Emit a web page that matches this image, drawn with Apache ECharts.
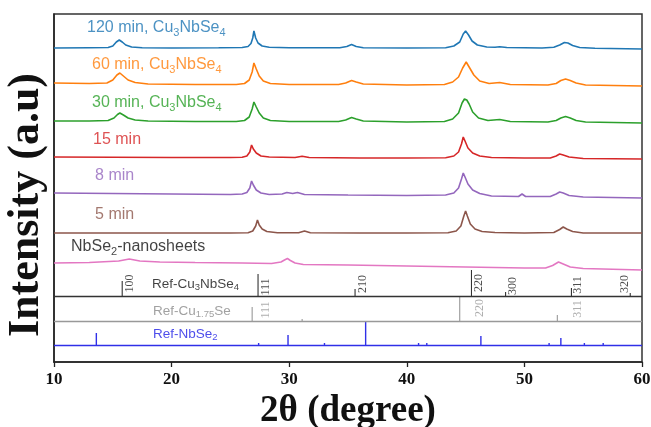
<!DOCTYPE html>
<html><head><meta charset="utf-8">
<script src="https://cdn.jsdelivr.net/npm/echarts@6/dist/echarts.min.js"></script>
<style>html,body{margin:0;padding:0;background:#fff}#c{width:651px;height:427px}</style>
</head><body><div id="c"></div>
<script>
// ---------------- data ----------------
const xTicks = [10, 20, 30, 40, 50, 60];

const trace120 = [[10,314],[13,314.3],[14.6,314.5],[15.0,316],[15.3,320],[15.55,322],[15.8,320],[16.1,317],[16.6,315],[17.5,314.3],[20,314],[24,314.2],[26.0,314.5],[26.5,315.5],[26.75,318.5],[26.9,324],[27.0,331],[27.15,324],[27.35,319],[27.7,316],[28.3,314.8],[30,314.2],[34.3,314.2],[34.9,315.5],[35.3,317.5],[35.7,315.5],[36.3,314.3],[40,314],[43.3,314.3],[44.0,316],[44.5,320],[44.8,328],[45.0,331],[45.25,327],[45.55,321],[46.0,317],[46.8,315],[47.5,314.8],[47.9,315.3],[48.5,314.5],[51.5,314],[52.5,314.8],[53.0,317],[53.4,319.5],[53.7,319],[54.1,316.5],[54.7,314.5],[56,313.8],[60,313]];
const trace60 = [[10,279],[13,278.5],[14.5,279],[15.0,282],[15.35,287],[15.6,289],[15.9,286],[16.3,282],[16.9,279.5],[18,278],[22,277.5],[25.5,277.5],[26.2,278.5],[26.6,282],[26.85,290],[27.0,299],[27.2,293],[27.45,286],[27.8,281],[28.4,278.5],[30,277.5],[34.2,277.5],[34.8,279],[35.3,281.5],[35.7,280],[36.3,278],[40,277],[43.2,277.5],[43.9,280],[44.4,285],[44.75,294],[45.05,300],[45.35,294],[45.7,287],[46.2,281],[47.0,278.5],[47.9,279.5],[48.8,277.5],[52,277],[52.7,278.5],[53.1,281.5],[53.5,283],[53.9,281.5],[54.4,279],[55.2,277],[60,276]];
const trace30 = [[10,241],[13,241],[14.6,241.5],[15.1,244],[15.4,247.5],[15.6,249],[15.9,247],[16.3,244],[16.9,242],[18,241],[22,240.5],[25.5,240.5],[26.2,241.5],[26.6,245],[26.85,253],[27.0,260],[27.2,255],[27.45,249],[27.8,244],[28.4,241.5],[30,240.5],[34.2,240.5],[34.8,242],[35.3,244.5],[35.7,243],[36.3,241],[40,240],[43.2,240.5],[43.9,243],[44.4,249],[44.7,259],[44.9,263],[45.1,262],[45.3,258],[45.6,250],[46.1,244],[46.9,241.5],[47.9,242.5],[48.8,240.5],[52,240],[52.7,241.5],[53.1,244],[53.5,245.5],[53.9,244],[54.4,241.5],[55.2,240],[60,239]];
const trace15 = [[10,205],[15,204.8],[20,204.5],[25,204.5],[26.0,204.8],[26.4,206],[26.65,210],[26.8,217],[26.95,213],[27.2,209],[27.6,206],[28.3,205],[30.5,204.5],[31.1,205.8],[31.7,204.5],[36,204],[40,204],[43.3,204.3],[44.0,206],[44.4,210],[44.65,218],[44.8,225],[44.95,221],[45.2,214],[45.6,209],[46.2,206],[47.2,204.5],[50,204],[52.2,204],[52.7,206],[53.0,208],[53.3,207],[53.8,205],[55,203.5],[60,203]];
const trace8 = [[10,169],[15,168.5],[20,168],[25,167.5],[26.0,168],[26.4,169.5],[26.65,174],[26.8,181],[26.95,177],[27.2,172],[27.6,169],[28.3,167.5],[29.4,168],[29.8,169.5],[30.3,168.5],[30.7,169.5],[31.3,167.5],[35,167],[40,166.5],[43.3,167],[44.0,169],[44.4,174],[44.65,183],[44.8,189],[44.95,185],[45.2,178],[45.6,172],[46.2,168.5],[47.2,166],[49.5,165.5],[49.8,168],[50.1,165.5],[52.2,165.5],[52.7,168],[53.0,170],[53.3,169],[53.8,166.5],[55,165],[60,164]];
const trace5 = [[10,129],[15,129],[20,129],[25,129],[26.5,129.3],[26.9,131],[27.15,136],[27.3,142],[27.45,137],[27.7,133],[28.1,130.5],[29,129.3],[30.8,129.3],[31.3,131],[31.8,129.3],[36,129],[40,129],[43.5,129.2],[44.2,131],[44.6,136],[44.85,146],[45.0,151],[45.15,146],[45.4,138],[45.8,133],[46.4,130.5],[47.5,129.5],[50,129],[52.5,129.5],[53.0,132.5],[53.3,135],[53.6,133],[54.1,130.5],[55,129],[60,129]];
const traceNano = [[10,99],[13,99.5],[15.5,101],[16.4,103],[17.3,101],[19,100],[22,99.5],[26,99],[28.5,98.5],[29.3,100],[29.6,102],[29.85,103.5],[30.1,101.5],[30.5,99],[31.2,97.5],[35,97],[40,96],[45,95],[50,94],[51.8,94],[52.4,96.5],[52.9,100],[53.3,98],[53.9,95],[55,93.5],[60,92]];

const sampleLabels = [
  '{m|120 min, Cu}{s|3}{m|NbSe}{s|4}',
  '{m|60 min, Cu}{s|3}{m|NbSe}{s|4}',
  '{m|30 min, Cu}{s|3}{m|NbSe}{s|4}',
  '{m|15 min}',
  '{m|8 min}',
  '{m|5 min}',
  '{m|NbSe}{s|2}{m|-nanosheets}'
];

// reference patterns: 2θ positions and stick heights
const refCu3NbSe4Pos = [15.8, 27.35, 35.6, 45.5, 48.4, 54.0, 59.0];
const refCu3NbSe4Hgt = [15, 22, 7, 26, 4, 8, 3];
const refCu3NbSe4Hkl = ['100', '111', '210', '220', '300', '311', '320'];
const refCu175SePos = [26.85, 31.1, 44.5, 52.8];
const refCu175SeHgt = [14, 2, 25, 6];
const refCu175SeHkl = ['111', '', '220', '311'];
const refNbSe2Pos = [13.6, 27.4, 29.9, 33.0, 36.5, 41.0, 41.7, 46.3, 52.1, 53.1, 55.1, 56.7];
const refNbSe2Hgt = [12, 2, 10, 2, 24, 2, 2, 9, 2, 7, 2, 2];
const refLabels = [
  '{m|Ref-Cu}{s|3}{m|NbSe}{s|4}',
  '{m|Ref-Cu}{s|1.75}{m|Se}',
  '{m|Ref-NbSe}{s|2}'
];

// ---------------- styling / layout ----------------
const colors = ['#1f77b4', '#ff7f0e', '#2ca02c', '#d62728', '#9467bd', '#8c564b', '#e377c2'];
const traces = [trace120, trace60, trace30, trace15, trace8, trace5, traceNano];
const labelColors = ['#1f77b4', '#ff7f0e', '#2ca02c', '#d62728', '#9467bd', '#8c564b', '#111'];
const labelAnchors = [[12.81, 334], [13.23, 297], [13.23, 259], [13.32, 222], [13.49, 186], [13.49, 147], [11.45, 115]];
const refBases = [66, 41, 17];
const refColors = ['#333', '#999', '#3030e8'];
const refLabelColors = ['#111', '#8a8a8a', '#2020e6'];
const refLabelAnchors = [[18.33, 78], [18.42, 51], [18.42, 28]];
const hklAnchorsCu3 = [[16.42, 78.5], [28.03, 75], [36.23, 78], [46.14, 79], [48.99, 76], [54.52, 77], [58.55, 78]];
const hklAnchorsCu175 = [[28.03, 52], null, [46.18, 54], [54.56, 53]];

const SANS = '"Liberation Sans", Arial, sans-serif';
const SERIF = '"Liberation Serif", "Times New Roman", serif';

function richFor(color, size, subSize) {
  return {
    m: { fontFamily: SANS, fontSize: size, color: color, lineHeight: size + 4, verticalAlign: 'middle' },
    s: { fontFamily: SANS, fontSize: subSize, color: color, lineHeight: size + 4, verticalAlign: 'bottom', padding: [0, 0, 0, 0] }
  };
}

function stickSeries(pos, hgt, base, color, width) {
  return {
    type: 'custom',
    silent: true,
    animation: false,
    z: 3,
    renderItem: function (params, api) {
      const x = api.value(0), h = api.value(1);
      const p0 = api.coord([x, base]);
      const p1 = api.coord([x, base + h]);
      return { type: 'line', shape: { x1: p0[0], y1: p0[1], x2: p1[0], y2: p1[1] }, style: { stroke: color, lineWidth: width } };
    },
    data: pos.map((p, i) => [p, hgt[i]]),
    markLine: {
      silent: true, symbol: 'none', animation: false,
      label: { show: false },
      lineStyle: { color: color, width: 1.3, type: 'solid' },
      data: [{ yAxis: base }]
    }
  };
}

function textSeries(points, texts, colorsArr, size, subSize) {
  return {
    type: 'scatter', silent: true, animation: false, symbolSize: 0, z: 5,
    data: points.map((p, i) => ({
      value: p,
      label: {
        show: true, position: 'right', distance: 0,
        formatter: texts[i],
        rich: richFor(colorsArr[i], size, subSize)
      }
    }))
  };
}

function hklSeries(points, texts, color) {
  const data = [];
  points.forEach((p, i) => {
    if (p && texts[i]) data.push({ value: p, label: { formatter: texts[i] } });
  });
  return {
    type: 'scatter', silent: true, animation: false, symbolSize: 0, z: 5,
    label: { show: true, position: 'inside', rotate: 90, color: color, fontFamily: SERIF, fontSize: 12, align: 'center', verticalAlign: 'middle' },
    data: data
  };
}

const series = [];
traces.forEach((t, i) => {
  series.push({ type: 'line', data: t, showSymbol: false, silent: true, animation: false,
    lineStyle: { color: colors[i], width: 1.6 }, itemStyle: { color: colors[i] }, z: 2 });
});
series.push(stickSeries(refCu3NbSe4Pos, refCu3NbSe4Hgt, refBases[0], refColors[0], 1.1));
series.push(stickSeries(refCu175SePos, refCu175SeHgt, refBases[1], refColors[1], 1.1));
series.push(stickSeries(refNbSe2Pos, refNbSe2Hgt, refBases[2], refColors[2], 1.4));
series.push(textSeries(labelAnchors, sampleLabels, labelColors, 16, 11));
series.push(textSeries(refLabelAnchors, refLabels, refLabelColors, 13.5, 9.5));
series.push(hklSeries(hklAnchorsCu3, refCu3NbSe4Hkl, '#222'));
series.push(hklSeries(hklAnchorsCu175, refCu175SeHkl, '#999'));

const chart = echarts.init(document.getElementById('c'), null, { renderer: 'canvas' });
chart.setOption({
  backgroundColor: '#fff',
  animation: false,
  grid: { left: 54, right: 9, top: 14, bottom: 65, containLabel: false, outerBoundsMode: 'none',
    show: true, borderColor: '#333', borderWidth: 1.5, backgroundColor: 'transparent' },
  xAxis: {
    type: 'value', min: xTicks[0], max: xTicks[xTicks.length - 1], interval: 10,
    axisLine: { show: true, lineStyle: { color: '#222', width: 1.5 } },
    axisTick: { show: true, inside: false, length: 5, lineStyle: { color: '#222', width: 1.3 } },
    axisLabel: { color: '#111', fontFamily: SERIF, fontWeight: 'bold', fontSize: 17, margin: 9 },
    splitLine: { show: false },
    name: '2θ (degree)', nameLocation: 'middle', nameGap: 24,
    nameTextStyle: { color: '#111', fontFamily: SERIF, fontWeight: 'bold', fontSize: 37 }
  },
  yAxis: {
    type: 'value', min: 0, max: 348,
    axisLine: { show: true, lineStyle: { color: '#222', width: 1.5 } },
    axisTick: { show: false }, axisLabel: { show: false }, splitLine: { show: false }
  },
  graphic: [{
    type: 'text', x: 27, y: 205, rotation: Math.PI / 2,
    style: { text: 'Intensity (a.u)', fill: '#111', font: 'bold 44px ' + SERIF, align: 'center', verticalAlign: 'middle' }
  }],
  series: series
});
</script></body></html>
